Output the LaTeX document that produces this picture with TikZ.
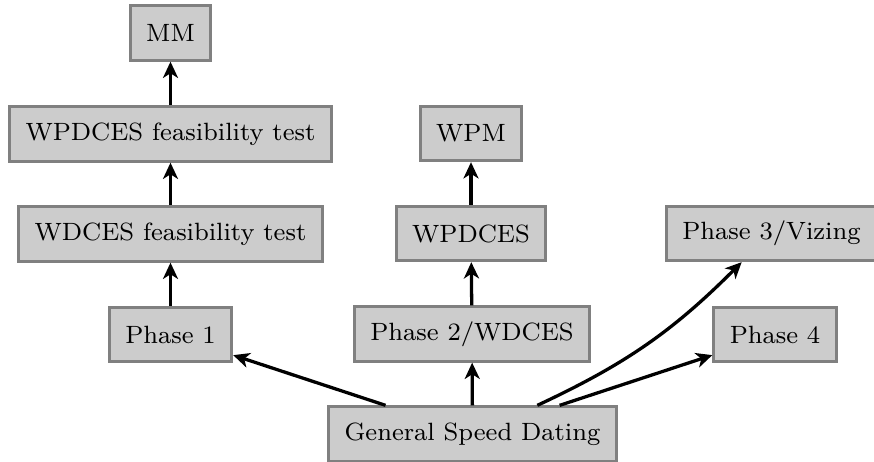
\documentclass[tikz,border=0pt]{standalone}
\usetikzlibrary{arrows.meta}
\begin{document}
\begin{tikzpicture}[x=0.32pt,y=-0.32pt,
  box/.style={draw=black!50, fill=black!20, line width=0.95pt, rectangle,
    font=\footnotesize, inner xsep=5.1pt, inner ysep=0pt, minimum height=17.4pt},
  conn/.style={line width=1.05pt, -{Stealth[length=5.2pt,width=4.8pt,inset=1.5pt]}}]
\useasboundingbox (0,0) rectangle (874,462);
\node[box] (mm)   at (170.5,33)  {MM};
\node[box] (wpft) at (170.5,134) {WPDCES feasibility test};
\node[box] (wdft) at (170.5,234) {WDCES feasibility test};
\node[box] (p1)   at (170.5,334.5) {Phase 1};
\node[box] (wpm)  at (471,133.5) {WPM};
\node[box] (wpd)  at (471,233.5) {WPDCES};
\node[box] (p2)   at (472,334) {Phase 2/WDCES};
\node[box] (gsd)  at (472.5,434) {General Speed Dating};
\node[box] (p3)   at (771.5,233.5) {Phase 3/Vizing};
\node[box] (p4)   at (775,334.5) {Phase 4};
\draw[conn] (p1) -- (wdft);
\draw[conn] (wdft) -- (wpft);
\draw[conn] (wpft) -- (mm);
\draw[conn] (gsd) -- (p2);
\draw[conn] (p2) -- (wpd);
\draw[conn] (wpd) -- (wpm);
\draw[conn] (gsd) -- (p1);
\draw[conn] (gsd) -- (p4);
\draw[conn] (gsd) to[bend right=10] (p3);
\end{tikzpicture}
\end{document}
